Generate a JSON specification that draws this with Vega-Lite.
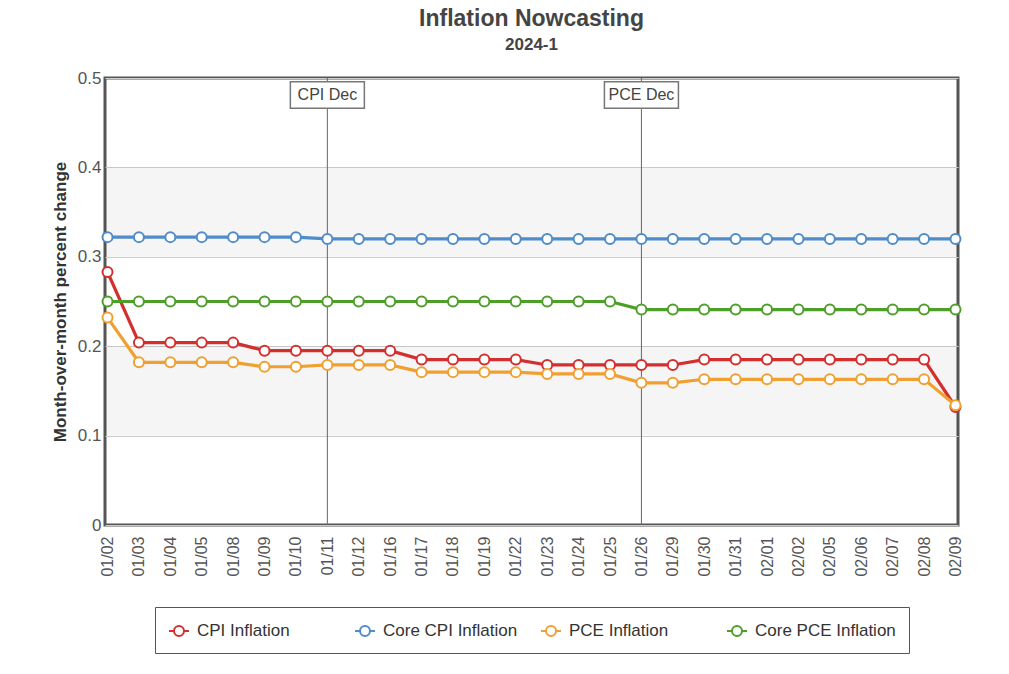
{
  "$schema": "https://vega.github.io/schema/vega-lite/v6.json",
  "width": 853,
  "height": 447,
  "autosize": "none",
  "padding": {"left": 105, "top": 78, "right": 51, "bottom": 149},
  "background": "white",
  "title": {
    "text": "Inflation Nowcasting",
    "subtitle": "2024-1",
    "anchor": "middle",
    "font": "Liberation Sans",
    "fontSize": 23,
    "fontWeight": "bold",
    "color": "#444",
    "subtitleFont": "Liberation Sans",
    "subtitleFontSize": 17,
    "subtitleFontWeight": "bold",
    "subtitleColor": "#444",
    "subtitlePadding": 6,
    "offset": 16
  },
  "config": {
    "font": "Liberation Sans",
    "view": {"stroke": "#555", "strokeWidth": 3},
    "axisX": {"title": null, "labelAngle": -90, "labelFontSize": 16, "labelColor": "#555", "labelPadding": 11, "ticks": false, "domain": false, "grid": false, "labelFont": "Liberation Sans"},
    "axisY": {"titleFontSize": 17, "titleFontWeight": "bold", "titleColor": "#333", "titlePadding": 8, "titleFont": "Liberation Sans", "labelFontSize": 17, "labelColor": "#555", "labelPadding": 4, "labelFont": "Liberation Sans", "grid": true, "gridColor": "#ccc", "ticks": false, "domain": false}
  },
  "datasets": {
    "series": [
      {"date": "01/02", "series": "CPI Inflation", "value": 0.283},
      {"date": "01/03", "series": "CPI Inflation", "value": 0.204},
      {"date": "01/04", "series": "CPI Inflation", "value": 0.204},
      {"date": "01/05", "series": "CPI Inflation", "value": 0.204},
      {"date": "01/08", "series": "CPI Inflation", "value": 0.204},
      {"date": "01/09", "series": "CPI Inflation", "value": 0.195},
      {"date": "01/10", "series": "CPI Inflation", "value": 0.195},
      {"date": "01/11", "series": "CPI Inflation", "value": 0.195},
      {"date": "01/12", "series": "CPI Inflation", "value": 0.195},
      {"date": "01/16", "series": "CPI Inflation", "value": 0.195},
      {"date": "01/17", "series": "CPI Inflation", "value": 0.185},
      {"date": "01/18", "series": "CPI Inflation", "value": 0.185},
      {"date": "01/19", "series": "CPI Inflation", "value": 0.185},
      {"date": "01/22", "series": "CPI Inflation", "value": 0.185},
      {"date": "01/23", "series": "CPI Inflation", "value": 0.179},
      {"date": "01/24", "series": "CPI Inflation", "value": 0.179},
      {"date": "01/25", "series": "CPI Inflation", "value": 0.179},
      {"date": "01/26", "series": "CPI Inflation", "value": 0.179},
      {"date": "01/29", "series": "CPI Inflation", "value": 0.179},
      {"date": "01/30", "series": "CPI Inflation", "value": 0.185},
      {"date": "01/31", "series": "CPI Inflation", "value": 0.185},
      {"date": "02/01", "series": "CPI Inflation", "value": 0.185},
      {"date": "02/02", "series": "CPI Inflation", "value": 0.185},
      {"date": "02/05", "series": "CPI Inflation", "value": 0.185},
      {"date": "02/06", "series": "CPI Inflation", "value": 0.185},
      {"date": "02/07", "series": "CPI Inflation", "value": 0.185},
      {"date": "02/08", "series": "CPI Inflation", "value": 0.185},
      {"date": "02/09", "series": "CPI Inflation", "value": 0.132},
      {"date": "01/02", "series": "Core CPI Inflation", "value": 0.322},
      {"date": "01/03", "series": "Core CPI Inflation", "value": 0.322},
      {"date": "01/04", "series": "Core CPI Inflation", "value": 0.322},
      {"date": "01/05", "series": "Core CPI Inflation", "value": 0.322},
      {"date": "01/08", "series": "Core CPI Inflation", "value": 0.322},
      {"date": "01/09", "series": "Core CPI Inflation", "value": 0.322},
      {"date": "01/10", "series": "Core CPI Inflation", "value": 0.322},
      {"date": "01/11", "series": "Core CPI Inflation", "value": 0.320},
      {"date": "01/12", "series": "Core CPI Inflation", "value": 0.320},
      {"date": "01/16", "series": "Core CPI Inflation", "value": 0.320},
      {"date": "01/17", "series": "Core CPI Inflation", "value": 0.320},
      {"date": "01/18", "series": "Core CPI Inflation", "value": 0.320},
      {"date": "01/19", "series": "Core CPI Inflation", "value": 0.320},
      {"date": "01/22", "series": "Core CPI Inflation", "value": 0.320},
      {"date": "01/23", "series": "Core CPI Inflation", "value": 0.320},
      {"date": "01/24", "series": "Core CPI Inflation", "value": 0.320},
      {"date": "01/25", "series": "Core CPI Inflation", "value": 0.320},
      {"date": "01/26", "series": "Core CPI Inflation", "value": 0.320},
      {"date": "01/29", "series": "Core CPI Inflation", "value": 0.320},
      {"date": "01/30", "series": "Core CPI Inflation", "value": 0.320},
      {"date": "01/31", "series": "Core CPI Inflation", "value": 0.320},
      {"date": "02/01", "series": "Core CPI Inflation", "value": 0.320},
      {"date": "02/02", "series": "Core CPI Inflation", "value": 0.320},
      {"date": "02/05", "series": "Core CPI Inflation", "value": 0.320},
      {"date": "02/06", "series": "Core CPI Inflation", "value": 0.320},
      {"date": "02/07", "series": "Core CPI Inflation", "value": 0.320},
      {"date": "02/08", "series": "Core CPI Inflation", "value": 0.320},
      {"date": "02/09", "series": "Core CPI Inflation", "value": 0.320},
      {"date": "01/02", "series": "PCE Inflation", "value": 0.232},
      {"date": "01/03", "series": "PCE Inflation", "value": 0.182},
      {"date": "01/04", "series": "PCE Inflation", "value": 0.182},
      {"date": "01/05", "series": "PCE Inflation", "value": 0.182},
      {"date": "01/08", "series": "PCE Inflation", "value": 0.182},
      {"date": "01/09", "series": "PCE Inflation", "value": 0.177},
      {"date": "01/10", "series": "PCE Inflation", "value": 0.177},
      {"date": "01/11", "series": "PCE Inflation", "value": 0.179},
      {"date": "01/12", "series": "PCE Inflation", "value": 0.179},
      {"date": "01/16", "series": "PCE Inflation", "value": 0.179},
      {"date": "01/17", "series": "PCE Inflation", "value": 0.171},
      {"date": "01/18", "series": "PCE Inflation", "value": 0.171},
      {"date": "01/19", "series": "PCE Inflation", "value": 0.171},
      {"date": "01/22", "series": "PCE Inflation", "value": 0.171},
      {"date": "01/23", "series": "PCE Inflation", "value": 0.169},
      {"date": "01/24", "series": "PCE Inflation", "value": 0.169},
      {"date": "01/25", "series": "PCE Inflation", "value": 0.169},
      {"date": "01/26", "series": "PCE Inflation", "value": 0.159},
      {"date": "01/29", "series": "PCE Inflation", "value": 0.159},
      {"date": "01/30", "series": "PCE Inflation", "value": 0.163},
      {"date": "01/31", "series": "PCE Inflation", "value": 0.163},
      {"date": "02/01", "series": "PCE Inflation", "value": 0.163},
      {"date": "02/02", "series": "PCE Inflation", "value": 0.163},
      {"date": "02/05", "series": "PCE Inflation", "value": 0.163},
      {"date": "02/06", "series": "PCE Inflation", "value": 0.163},
      {"date": "02/07", "series": "PCE Inflation", "value": 0.163},
      {"date": "02/08", "series": "PCE Inflation", "value": 0.163},
      {"date": "02/09", "series": "PCE Inflation", "value": 0.134},
      {"date": "01/02", "series": "Core PCE Inflation", "value": 0.250},
      {"date": "01/03", "series": "Core PCE Inflation", "value": 0.250},
      {"date": "01/04", "series": "Core PCE Inflation", "value": 0.250},
      {"date": "01/05", "series": "Core PCE Inflation", "value": 0.250},
      {"date": "01/08", "series": "Core PCE Inflation", "value": 0.250},
      {"date": "01/09", "series": "Core PCE Inflation", "value": 0.250},
      {"date": "01/10", "series": "Core PCE Inflation", "value": 0.250},
      {"date": "01/11", "series": "Core PCE Inflation", "value": 0.250},
      {"date": "01/12", "series": "Core PCE Inflation", "value": 0.250},
      {"date": "01/16", "series": "Core PCE Inflation", "value": 0.250},
      {"date": "01/17", "series": "Core PCE Inflation", "value": 0.250},
      {"date": "01/18", "series": "Core PCE Inflation", "value": 0.250},
      {"date": "01/19", "series": "Core PCE Inflation", "value": 0.250},
      {"date": "01/22", "series": "Core PCE Inflation", "value": 0.250},
      {"date": "01/23", "series": "Core PCE Inflation", "value": 0.250},
      {"date": "01/24", "series": "Core PCE Inflation", "value": 0.250},
      {"date": "01/25", "series": "Core PCE Inflation", "value": 0.250},
      {"date": "01/26", "series": "Core PCE Inflation", "value": 0.241},
      {"date": "01/29", "series": "Core PCE Inflation", "value": 0.241},
      {"date": "01/30", "series": "Core PCE Inflation", "value": 0.241},
      {"date": "01/31", "series": "Core PCE Inflation", "value": 0.241},
      {"date": "02/01", "series": "Core PCE Inflation", "value": 0.241},
      {"date": "02/02", "series": "Core PCE Inflation", "value": 0.241},
      {"date": "02/05", "series": "Core PCE Inflation", "value": 0.241},
      {"date": "02/06", "series": "Core PCE Inflation", "value": 0.241},
      {"date": "02/07", "series": "Core PCE Inflation", "value": 0.241},
      {"date": "02/08", "series": "Core PCE Inflation", "value": 0.241},
      {"date": "02/09", "series": "Core PCE Inflation", "value": 0.241}
    ],
    "bands": [{"lo": 0.1, "hi": 0.2}, {"lo": 0.3, "hi": 0.4}],
    "events": [{"date": "01/11", "label": "CPI Dec"}, {"date": "01/26", "label": "PCE Dec"}]
  },
  "layer": [
    {
      "data": {"name": "bands"},
      "mark": {"type": "rect", "fill": "#000", "fillOpacity": 0.04},
      "encoding": {
        "y": {"field": "lo", "type": "quantitative", "scale": {"domain": [0, 0.5], "nice": false}, "axis": {"title": "Month-over-month percent change", "values": [0, 0.1, 0.2, 0.3, 0.4, 0.5], "format": "~g"}},
        "y2": {"field": "hi"}
      }
    },
    {
      "data": {"name": "events"},
      "mark": {"type": "rule", "color": "#666", "strokeWidth": 1},
      "encoding": {
        "x": {"field": "date", "type": "ordinal", "scale": {"type": "point", "padding": 0.08}, "axis": {"title": null}}
      }
    },
    {
      "data": {"name": "series"},
      "mark": {"type": "line", "strokeWidth": 3.2},
      "encoding": {
        "x": {"field": "date", "type": "ordinal", "axis": {"title": null}},
        "y": {"field": "value", "type": "quantitative", "axis": {"title": "Month-over-month percent change", "values": [0, 0.1, 0.2, 0.3, 0.4, 0.5], "format": "~g"}},
        "color": {
          "field": "series", "type": "nominal",
          "scale": {"domain": ["CPI Inflation", "Core CPI Inflation", "PCE Inflation", "Core PCE Inflation"], "range": ["#d32f2f", "#4f8cc9", "#f0a030", "#4e9f2a"]},
          "legend": {
            "orient": "none", "legendX": 50, "legendY": 529,
            "direction": "horizontal", "columns": 4, "gridAlign": "all", "columnPadding": 13,
            "title": null, "strokeColor": "#555", "fillColor": "white", "padding": 13,
            "labelFontSize": 17, "labelColor": "#333", "labelFont": "Liberation Sans", "labelOffset": 7,
            "symbolType": "M-1,0L-0.5,0M0.5,0L1,0M-0.5,0A0.5,0.5 0 1,0 0.5,0A0.5,0.5 0 1,0 -0.5,0",
            "symbolSize": 400, "symbolStrokeWidth": 2, "symbolFillColor": "white"
          }
        }
      }
    },
    {
      "data": {"name": "series"},
      "mark": {"type": "point", "filled": false, "fill": "white", "fillOpacity": 1, "opacity": 1, "size": 100, "strokeWidth": 2},
      "encoding": {
        "x": {"field": "date", "type": "ordinal"},
        "y": {"field": "value", "type": "quantitative"},
        "color": {"field": "series", "type": "nominal"}
      }
    },
    {
      "data": {"name": "events"},
      "mark": {"type": "point", "shape": "M-1,-0.36H1V0.36H-1Z", "size": 5476, "filled": true, "fill": "white", "fillOpacity": 1, "opacity": 1, "stroke": "#777", "strokeWidth": 1.5},
      "encoding": {
        "x": {"field": "date", "type": "ordinal"},
        "y": {"datum": 0.481}
      }
    },
    {
      "data": {"name": "events"},
      "mark": {"type": "text", "fontSize": 16, "color": "#444", "baseline": "middle", "align": "center", "font": "Liberation Sans"},
      "encoding": {
        "x": {"field": "date", "type": "ordinal"},
        "y": {"datum": 0.481},
        "text": {"field": "label"}
      }
    }
  ]
}
